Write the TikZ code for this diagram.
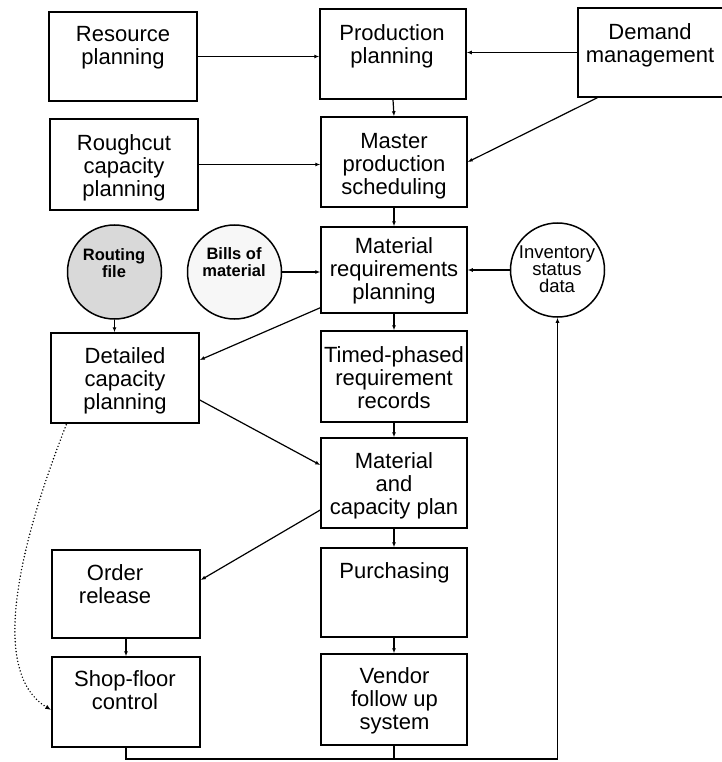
\documentclass[tikz,border=0pt]{standalone}
\usepackage{fontspec}
\setmainfont{Liberation Sans}
\usetikzlibrary{arrows.meta,calc}
\begin{document}
\begin{tikzpicture}[x=1pt,y=-1pt,
  box/.style={draw, line width=1.5pt, minimum width=146pt, minimum height=90pt, inner sep=0pt},
  txt/.style={align=center, inner sep=0pt, font=\fontsize{22}{23}\selectfont},
  disk/.style={circle, draw, line width=1.5pt, minimum size=94pt, inner sep=0pt},
  ctxt/.style={align=center, inner sep=0pt, font=\bfseries\fontsize{16.5}{17}\selectfont},
  itxt/.style={align=center, inner sep=0pt, font=\fontsize{18.5}{17}\selectfont},
  link/.style={line width=1.2pt, -{Latex[length=5pt,width=4pt]}},
  plain/.style={line width=1.2pt},
  dotlink/.style={line width=1.6pt, line cap=round, dash pattern=on 0pt off 3.3pt,
                  -{Latex[length=6pt,width=4.5pt]}}]
\useasboundingbox (0,0) rectangle (721,762);

% ---- boxes ----
\node[box, minimum width=148pt, minimum height=89pt] (rp)  at (123,56.5) {};
\node[box] (pp)  at (393,54) {};
\node[box, minimum width=156pt, minimum height=89pt] (dm)  at (656,52.5) {};
\node[box, minimum width=148pt, minimum height=91pt] (rc)  at (124,164.5) {};
\node[box] (mps) at (394,162) {};
\node[box, minimum height=86pt] (mrp) at (394,270) {};
\node[box, minimum height=91pt] (tp)  at (394,376.5) {};
\node[box] (mcp) at (394,483) {};
\node[box, minimum height=89pt] (pu)  at (394,592.5) {};
\node[box, minimum height=91pt] (vf)  at (394,699.5) {};
\node[box, minimum width=148pt] (dc)  at (125,378) {};
\node[box, minimum width=148pt, minimum height=88pt] (or)  at (126,594) {};
\node[box, minimum width=148pt] (sf)  at (126,702) {};

% ---- data files ----
\node[disk, fill=gray!30] (rf)  at (114.5,272) {};
\node[disk, fill=gray!6]  (bm)  at (234.5,272) {};
\node[disk] (inv) at (557.5,270) {};

% ---- labels ----
\node[txt] (rp-t)  at (123,48)    {Resource\\planning};
\node[txt] (pp-t)  at (392,46)    {Production\\planning};
\node[txt] (dm-t)  at (650,45)    {Demand\\management};
\node[txt] (rc-t)  at (124,168)   {Roughcut\\capacity\\planning};
\node[txt] (mps-t) at (394,166)   {Master\\production\\scheduling};
\node[txt] (mrp-t) at (394,270.5) {Material\\requirements\\planning};
\node[txt] (tp-t)  at (394,378)   {Timed-phased\\requirement\\records};
\node[txt] (mcp-t) at (394,486)   {Material\\and\\capacity plan};
\node[txt] (pu-t)  at (394.5,572.5) {Purchasing};
\node[txt] (vf-t)  at (394.5,700.5) {Vendor\\follow up\\system};
\node[txt] (dc-t)  at (125,381)   {Detailed\\capacity\\planning};
\node[txt] (or-t)  at (115,584.5) {Order\\release};
\node[txt] (sf-t)  at (125,690)   {Shop-floor\\control};
\node[ctxt] (rf-t) at (114,263)   {Routing\\file};
\node[ctxt] (bm-t) at (234,262.5) {Bills of\\material};
\node[itxt] (inv-t) at (557,269.5) {Inventory\\status\\data};

% ---- connectors ----
\draw[link] (rp.east) -- (rp.east -| pp.west);
\draw[link] (dm.west) -- (dm.west -| pp.east);
\draw[link] (pp.south) -- (mps.north);
\draw[link] (rc.east) -- (rc.east -| mps.west);
\draw[link] ($(dm.south west)+(20,0)$) -- (mps.east);
\draw[link] (mps.south) -- (mrp.north);
\draw[link] (bm.east) -- (bm.east -| mrp.west);
\draw[link] (inv.west) -- (inv.west -| mrp.east);
\draw[link] (rf.south) -- (rf.south |- dc.north);
\draw[link] ($(mrp.south west)+(0,-6)$) -- ($(dc.east)+(0,-18)$);
\draw[link] ($(dc.east)+(0,22)$) -- ($(mcp.west)+(0,-18)$);
\draw[link] ($(mcp.west)+(0,27)$) -- ($(or.east)+(0,-14)$);
\draw[link] (mrp.south) -- (tp.north);
\draw[link] (tp.south) -- (mcp.north);
\draw[link] (mcp.south) -- (pu.north);
\draw[link] (pu.south) -- (vf.north);
\draw[link] (or.south) -- (sf.north);

% feedback to inventory status
\coordinate (fb) at (inv.south |- 0,759);
\draw[plain] (sf.south) -- (sf.south |- fb) -- (fb);
\draw[plain] (vf.south) -- (vf.south |- fb);
\draw[link] (fb) -- (inv.south);

% dotted link from detailed capacity planning to shop-floor control
\draw[dotlink] ($(dc.south west)+(16,1)$) .. controls (25,530) and (-15,670) .. ($(sf.west)+(0,8)$);
\end{tikzpicture}
\end{document}
